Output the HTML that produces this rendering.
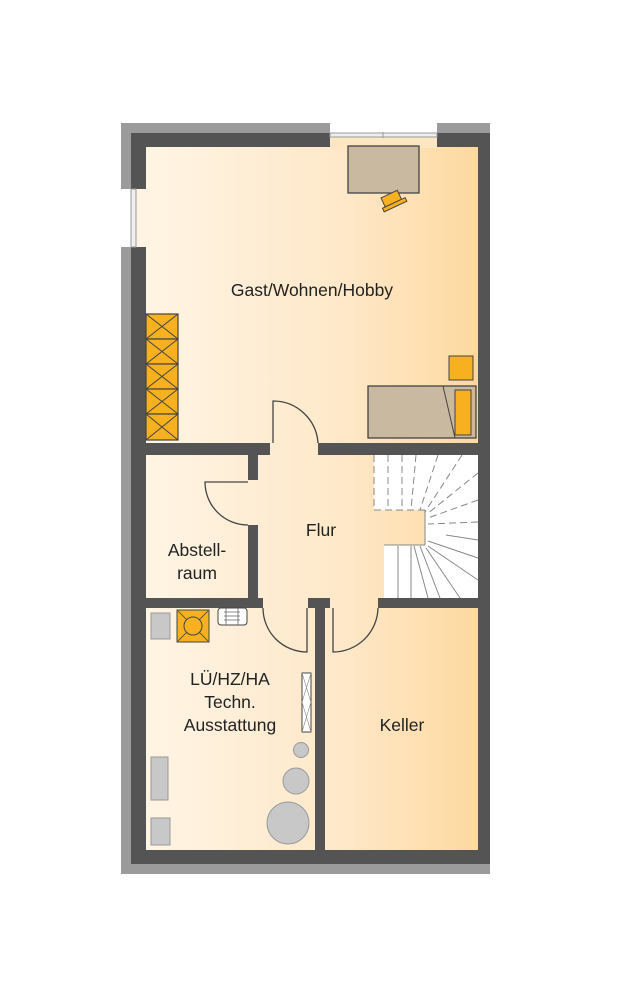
<!DOCTYPE html>
<html><head><meta charset="utf-8"><style>
html,body{margin:0;padding:0;background:#fff;}
svg{display:block}
text{font-family:"Liberation Sans",sans-serif;fill:#222;}
</style></head><body>
<svg width="617" height="1000" viewBox="0 0 617 1000" xmlns="http://www.w3.org/2000/svg">
<defs>
<linearGradient id="g" x1="146" y1="0" x2="478" y2="0" gradientUnits="userSpaceOnUse">
<stop offset="0" stop-color="#fff4e4"/><stop offset="0.6" stop-color="#fee8c8"/><stop offset="1" stop-color="#fdd9a0"/>
</linearGradient>
</defs>
<!-- floor -->
<rect x="146" y="147" width="332" height="703" fill="url(#g)"/>
<rect x="134" y="189" width="14" height="58" fill="#fff4e4"/>
<rect x="330" y="136" width="107" height="12" fill="#fee6c2"/>
<!-- light gray outer -->
<rect x="121" y="123" width="209" height="10" fill="#9b9b9b"/>
<rect x="121" y="123" width="10" height="66" fill="#9b9b9b"/>
<rect x="121" y="247" width="10" height="627" fill="#9b9b9b"/>
<rect x="121" y="864" width="369" height="10" fill="#9b9b9b"/>
<rect x="437" y="123" width="53" height="10" fill="#9b9b9b"/>
<!-- dark outer walls -->
<rect x="131" y="133" width="199" height="14" fill="#545454"/>
<rect x="131" y="133" width="15" height="56" fill="#545454"/>
<rect x="131" y="247" width="15" height="617" fill="#545454"/>
<rect x="131" y="850" width="359" height="14" fill="#545454"/>
<rect x="437" y="133" width="53" height="14" fill="#545454"/>
<rect x="478" y="133" width="12" height="731" fill="#545454"/>
<!-- windows -->
<rect x="330" y="133" width="107" height="4" fill="#eee" stroke="#999" stroke-width="1"/>
<line x1="383" y1="132" x2="383" y2="138" stroke="#999"/>
<rect x="131" y="189" width="5" height="58" fill="#eee" stroke="#999" stroke-width="1"/>
<!-- stairs -->
<path d="M374 455 H478 V598 H384 V545 H425 V510 H374 Z" fill="#fff"/>
<g stroke="#888" stroke-width="1" stroke-dasharray="7,4" fill="none">
<line x1="374" y1="455" x2="374" y2="510"/>
<line x1="388" y1="455" x2="388" y2="510"/>
<line x1="402" y1="455" x2="402" y2="510"/>
<line x1="416" y1="455" x2="411" y2="510"/>
<line x1="438" y1="455" x2="420" y2="510"/>
<line x1="462" y1="455" x2="425" y2="512"/>
<line x1="478" y1="473" x2="427" y2="514"/>
<line x1="478" y1="500" x2="428" y2="518"/>
<line x1="478" y1="522" x2="428" y2="524"/>
<line x1="374" y1="510" x2="425" y2="510"/>
</g>
<g stroke="#888" stroke-width="1" fill="none">
<line x1="384" y1="545" x2="425" y2="545"/>
<line x1="425" y1="510" x2="425" y2="545"/>
<line x1="478" y1="540" x2="446" y2="535"/>
<line x1="478" y1="558" x2="428" y2="541"/>
<line x1="478" y1="580" x2="428" y2="546"/>
<line x1="460" y1="598" x2="426" y2="548"/>
<line x1="440" y1="598" x2="420" y2="546"/>
<line x1="428" y1="598" x2="414" y2="546"/>
<line x1="411" y1="598" x2="411" y2="546"/>
<line x1="398" y1="598" x2="398" y2="546"/>
</g>
<!-- internal walls -->
<rect x="146" y="443" width="124" height="12" fill="#545454"/>
<rect x="318" y="443" width="160" height="12" fill="#545454"/>
<rect x="248" y="455" width="10" height="25" fill="#545454"/>
<rect x="248" y="525" width="10" height="83" fill="#545454"/>
<rect x="146" y="598" width="117" height="10" fill="#545454"/>
<rect x="378" y="598" width="100" height="10" fill="#545454"/>
<rect x="308" y="598" width="22" height="10" fill="#545454"/>
<rect x="315" y="598" width="10" height="252" fill="#545454"/>
<!-- doors -->
<g stroke="#444" stroke-width="1.3" fill="none">
<path d="M273 443 V401 A45 45 0 0 1 318 443"/>
<path d="M248 482 H205 A43 43 0 0 0 248 525"/>
<path d="M307 608 V652 A44 44 0 0 1 263 608"/>
<path d="M333 608 V652 A45 45 0 0 0 378 608"/>
</g>
<!-- desk & chair -->
<rect x="348" y="146" width="71" height="47" fill="#c9b9a0" stroke="#444" stroke-width="1.3"/>
<g transform="rotate(-25 393 200)">
<rect x="383" y="193" width="18" height="10" fill="#f6b020" stroke="#444"/>
<rect x="380" y="203" width="25" height="4" fill="#f6b020" stroke="#444"/>
</g>
<!-- shelves -->
<g fill="#f6b020" stroke="#444" stroke-width="1.2">
<rect x="146" y="314" width="32" height="25"/><rect x="146" y="339" width="32" height="25"/>
<rect x="146" y="364" width="32" height="25"/><rect x="146" y="389" width="32" height="25"/>
<rect x="146" y="414" width="32" height="26"/>
</g>
<g stroke="#444" stroke-width="1">
<path d="M146 314 L178 339 M178 314 L146 339 M146 339 L178 364 M178 339 L146 364 M146 364 L178 389 M178 364 L146 389 M146 389 L178 414 M178 389 L146 414 M146 414 L178 440 M178 414 L146 440"/>
</g>
<!-- bed -->
<rect x="449" y="356" width="24" height="24" fill="#f6b020" stroke="#444"/>
<rect x="368" y="386" width="108" height="52" fill="#c9b9a0" stroke="#444" stroke-width="1.3"/>
<line x1="443" y1="386" x2="455" y2="438" stroke="#444"/>
<rect x="455" y="390" width="16" height="45" fill="#f6b020" stroke="#444"/>
<!-- tech room -->
<rect x="151" y="613" width="19" height="26" fill="#c8c8c8" stroke="#999"/>
<rect x="177" y="610" width="32" height="32" fill="#f6b020" stroke="#444"/>
<path d="M178 611 L208 641 M208 611 L178 641" stroke="#444" stroke-width="0.8"/>
<circle cx="193" cy="626" r="9" fill="#f6b020" stroke="#444"/>
<rect x="218" y="608" width="29" height="17" rx="3" fill="#fff" stroke="#444"/>
<path d="M224 612 H240 M224 616 H240 M224 620 H240 M226 608 V625 M238 608 V625" stroke="#666" stroke-width="0.8"/>
<rect x="302" y="673" width="9" height="59" fill="#fff" stroke="#444"/>
<path d="M302 673 L311 702 L302 732 M311 673 L302 702 L311 732" stroke="#888" stroke-width="0.6" fill="none"/>
<circle cx="301" cy="750" r="7.5" fill="#c8c8c8" stroke="#999"/>
<circle cx="296" cy="781" r="13" fill="#c8c8c8" stroke="#999"/>
<circle cx="288" cy="823" r="21" fill="#c8c8c8" stroke="#999"/>
<rect x="151" y="757" width="17" height="43" fill="#c8c8c8" stroke="#999"/>
<rect x="151" y="818" width="19" height="27" fill="#c8c8c8" stroke="#999"/>
<!-- labels -->
<g font-size="17.5" text-anchor="middle">
<text x="312" y="296">Gast/Wohnen/Hobby</text>
<text x="321" y="536">Flur</text>
<text x="197" y="556">Abstell-</text>
<text x="197" y="579">raum</text>
<text x="230" y="685">LÜ/HZ/HA</text>
<text x="230" y="708">Techn.</text>
<text x="230" y="731">Ausstattung</text>
<text x="402" y="731">Keller</text>
</g>
</svg>
</body></html>
